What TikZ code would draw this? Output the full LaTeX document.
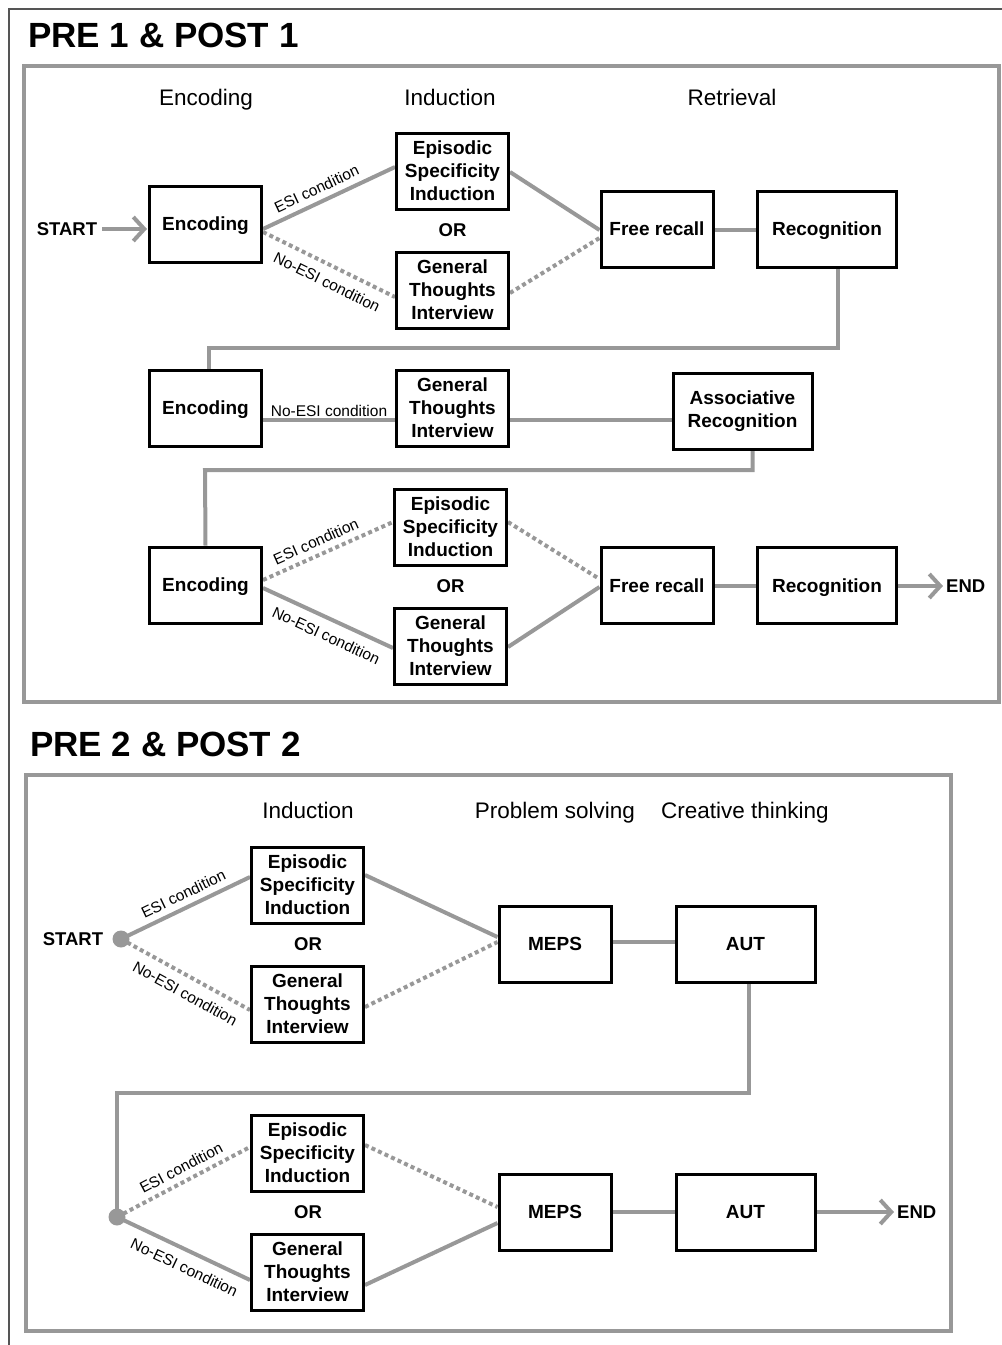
\documentclass[tikz,border=0pt]{standalone}
\usepackage{fontspec}
\setmainfont{Liberation Sans}
\usetikzlibrary{arrows.meta,backgrounds}
\definecolor{lg}{RGB}{152,152,152}
\definecolor{fr}{RGB}{85,85,85}
\begin{document}
\begin{tikzpicture}[x=1pt,y=-1pt,
 box/.style={draw=black, line width=3pt, fill=white, minimum width=112pt, minimum height=76pt, align=center, inner sep=0pt, font=\fontsize{19}{23}\selectfont\bfseries},
 sbox/.style={box, text height=13.6pt, text depth=0pt},
 wbox/.style={sbox, minimum width=139pt},
 conn/.style={draw=lg, line width=4pt},
 dots/.style={conn, dash pattern=on 4pt off 3.2pt},
 hdr/.style={font=\fontsize{22.5}{27}\selectfont, inner sep=0pt, anchor=base},
 lbl/.style={font=\fontsize{15.5}{18}\selectfont, inner sep=3.5pt},
 lup/.style={lbl, sloped, above, inner sep=6pt},
 ldn/.style={lbl, sloped, below, inner sep=9pt},
 ttl/.style={font=\fontsize{35}{40}\selectfont\bfseries, anchor=west, inner sep=0pt},
 btxt/.style={font=\fontsize{18.5}{22}\selectfont\bfseries, inner sep=0pt},
 panel/.style={draw=lg, line width=4pt},
 arr/.style={conn, -{Straight Barb[length=11pt,width=24pt]}},
 dotnode/.style={circle, fill=lg, minimum size=17pt, inner sep=0pt},
]
\useasboundingbox (0,0) rectangle (1002,1345);
% outer thin frame
\draw[fr, line width=1.5pt] (9,1345) -- (9,9) -- (1003,9);
% titles
\node[ttl] (t1) at (28,35) {PRE 1 \& POST 1};
\node[ttl] (t2) at (30,744) {PRE 2 \& POST 2};
% panels
\draw[panel] (24,66) rectangle (999,702);
\draw[panel] (26,775) rectangle (951,1331);
% headers section 1
\node[hdr] (h1) at (206,105) {Encoding};
\node[hdr] (h2) at (450,105) {Induction};
\node[hdr] (h3) at (732,105) {Retrieval};
% headers section 2
\node[hdr] (h4) at (308,818) {Induction};
\node[hdr] (h5) at (555,818) {Problem solving};
\node[hdr] (h6) at (745,818) {Creative thinking};

% ---- section 1 row 1
\node[btxt] (start1) at (67,229) {START};
\node[sbox] (enc1) at (205.5,224) {Encoding};
\node[box] (esi1) at (452.5,171) {Episodic\\Specificity\\Induction};
\node[btxt] (or1) at (452.5,230) {OR};
\node[box] (gti1) at (452.5,290) {General\\Thoughts\\Interview};
\node[sbox] (fr1) at (657,229) {Free recall};
\node[wbox] (rec1) at (827,229) {Recognition};
% ---- section 1 row 2
\node[sbox] (enc2) at (205.5,408) {Encoding};
\node[box] (gti2) at (452.5,408) {General\\Thoughts\\Interview};
\node[box, minimum width=139pt] (ar) at (742.5,411) {Associative\\Recognition};
% ---- section 1 row 3
\node[sbox] (enc3) at (205.5,585) {Encoding};
\node[box] (esi3) at (450.5,527) {Episodic\\Specificity\\Induction};
\node[btxt] (or3) at (450.5,586) {OR};
\node[box] (gti3) at (450.5,646) {General\\Thoughts\\Interview};
\node[sbox] (fr3) at (657,585.5) {Free recall};
\node[wbox] (rec3) at (827,585.5) {Recognition};
\node[btxt, anchor=west] (end1) at (946,586) {END};
\coordinate (e1) at (943,586);

% ---- section 2 row 1
\node[btxt] (start2) at (73,939) {START};
\node[dotnode] (d1) at (121,939) {};
\node[box] (esi4) at (307.5,885) {Episodic\\Specificity\\Induction};
\node[btxt] (or4) at (308,944) {OR};
\node[box] (gti4) at (307.5,1004) {General\\Thoughts\\Interview};
\node[sbox] (meps1) at (555,944) {MEPS};
\node[wbox] (aut1) at (745.5,944) {AUT};
% ---- section 2 row 2
\node[dotnode] (d2) at (117,1217) {};
\node[box] (esi5) at (307.5,1153) {Episodic\\Specificity\\Induction};
\node[btxt] (or5) at (308,1212) {OR};
\node[box] (gti5) at (307.5,1272) {General\\Thoughts\\Interview};
\node[sbox] (meps2) at (555,1212) {MEPS};
\node[wbox] (aut2) at (745.5,1212) {AUT};
\node[btxt, anchor=west] (end2) at (897,1212) {END};
\coordinate (e2) at (894,1212);

\begin{scope}[on background layer]
% section 1 row 1
\draw[arr] (start1.east) ++(5,0) coordinate (s1) (s1) -- ([xshift=-1pt]enc1.west |- s1);
\draw[conn] ([yshift=-5]enc1.east) -- node[lup, pos=0.45] {ESI condition} ([yshift=4]esi1.west);
\draw[dots] ([yshift=-8]enc1.east) -- node[ldn, pos=0.54] {No-ESI condition} ([yshift=-7]gti1.west);
\draw[conn] ([yshift=-1]esi1.east) -- ([yshift=-1]fr1.west);
\draw[dots] ([yshift=-3]gti1.east) -- ([yshift=-9]fr1.west);
\draw[conn] ([yshift=-1]fr1.east) -- ([yshift=-1]rec1.west);
\draw[conn] ([xshift=11]rec1.south) |- (209,348) -- ([xshift=3.5]enc2.north);
% section 1 row 2
\draw[conn] ([yshift=-12]enc2.east) -- node[lbl, above, inner sep=1.5pt] {No-ESI condition} ([yshift=-12]gti2.west);
\draw[conn] ([yshift=-12]gti2.east) -- ([yshift=-9]ar.west);
\draw[conn] ([xshift=10]ar.south) |- (205,470) -- (enc3.north);
% section 1 row 3
\draw[dots] ([yshift=5]enc3.east) -- node[lup, pos=0.45] {ESI condition} ([yshift=5]esi3.west);
\draw[conn] ([yshift=-3]enc3.east) -- node[ldn, pos=0.54] {No-ESI condition} ([yshift=-2]gti3.west);
\draw[dots] ([yshift=5]esi3.east) -- ([yshift=6.5]fr3.west);
\draw[conn] ([yshift=-1]gti3.east) -- ([yshift=-1.5]fr3.west);
\draw[conn] ([yshift=-0.5]fr3.east) -- ([yshift=-0.5]rec3.west);
\draw[arr] ([yshift=-0.5]rec3.east) -- (e1);
% section 2 row 1
\draw[conn] (d1.center) -- node[lup, pos=0.53] {ESI condition} ([yshift=8]esi4.west);
\draw[dots] (d1.center) -- node[ldn, pos=0.56] {No-ESI condition} ([yshift=-6]gti4.west);
\draw[conn] ([yshift=10]esi4.east) -- ([yshift=7]meps1.west);
\draw[dots] ([yshift=-3]gti4.east) -- ([yshift=2]meps1.west);
\draw[conn] ([yshift=2]meps1.east) -- ([yshift=2]aut1.west);
\draw[conn] ([xshift=3]aut1.south) |- (117,1093) -- (d2.center);
% section 2 row 2
\draw[dots] (d2.center) -- node[lup, pos=0.53] {ESI condition} ([yshift=6]esi5.west);
\draw[conn] (d2.center) -- node[ldn, pos=0.56] {No-ESI condition} ([yshift=-8]gti5.west);
\draw[dots] ([yshift=8]esi5.east) -- ([yshift=5]meps2.west);
\draw[conn] ([yshift=-13]gti5.east) -- ([yshift=-11]meps2.west);
\draw[conn] (meps2.east) -- (aut2.west);
\draw[arr] (aut2.east) -- (e2);
\end{scope}
\end{tikzpicture}
\end{document}
